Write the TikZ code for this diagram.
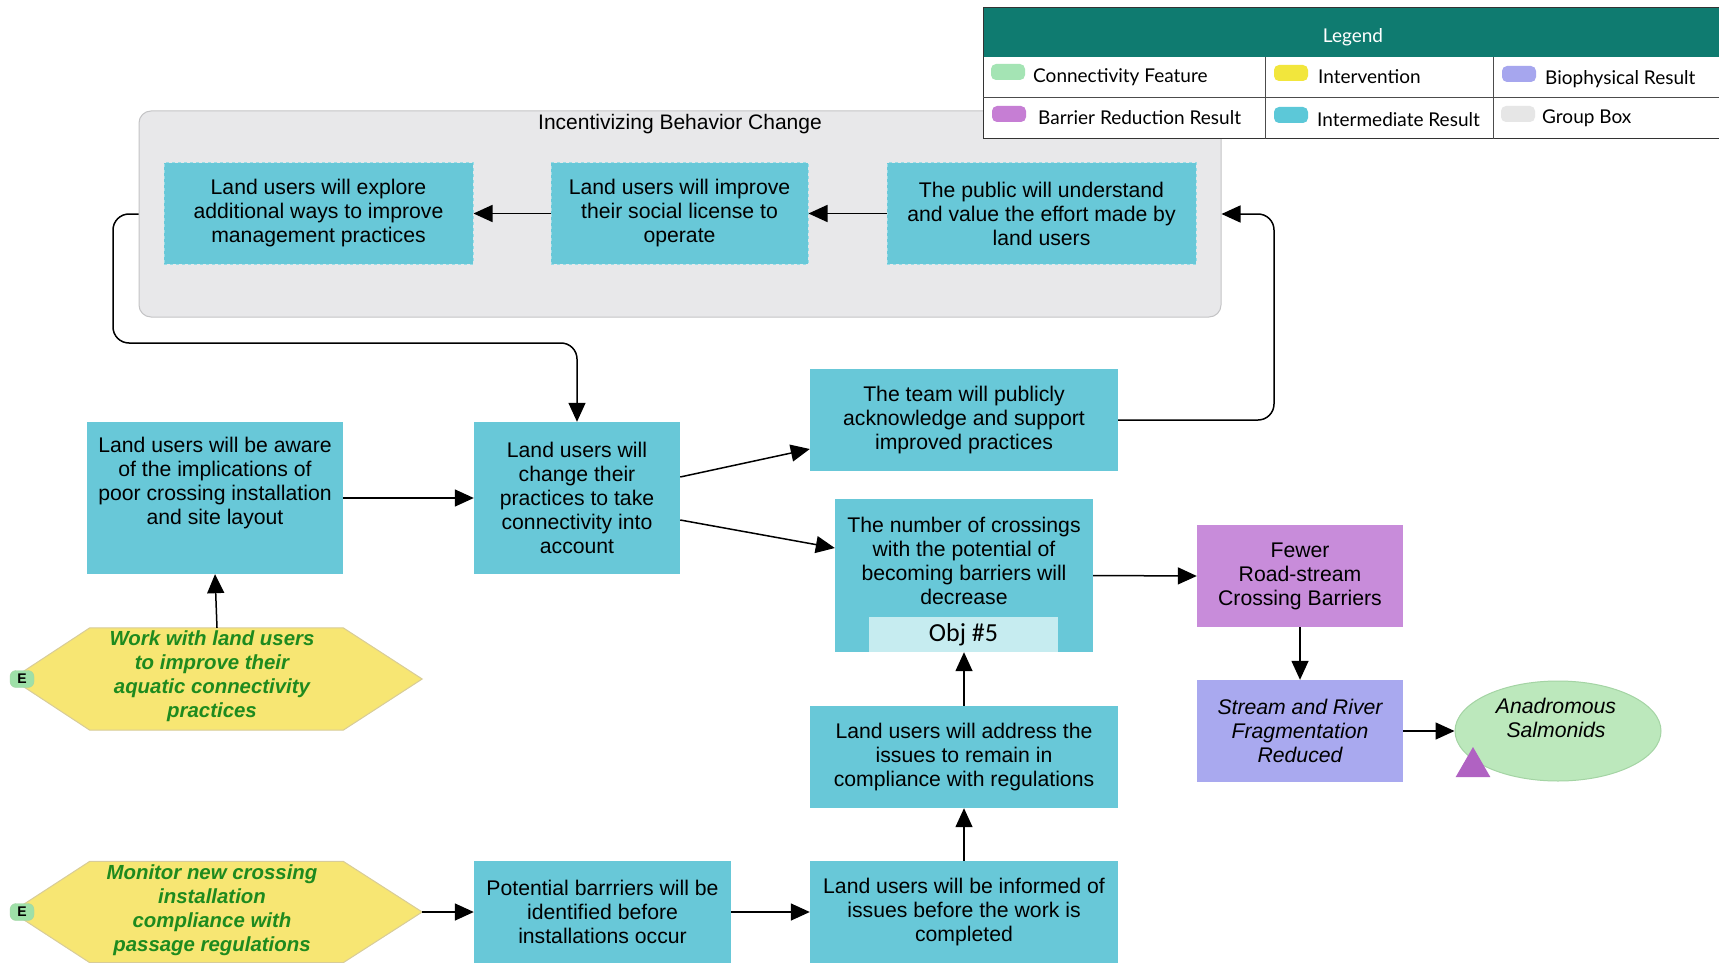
\documentclass[tikz,border=0pt]{standalone}
\usepackage{fontspec}
\setmainfont{Liberation Sans}
\newfontfamily\legfont{Lato}
\newfontfamily\objfont{Carlito}
\usetikzlibrary{arrows.meta,calc,shapes.geometric}
\definecolor{ircol}{HTML}{68C8D8}
\definecolor{irdash}{HTML}{9ADCE6}
\definecolor{grpfill}{HTML}{E8E8EA}
\definecolor{grpdraw}{HTML}{C4C4C6}
\definecolor{hexfill}{HTML}{F7E673}
\definecolor{hexdraw}{HTML}{D8CC98}
\definecolor{hextext}{HTML}{1E8A1E}
\definecolor{barcol}{HTML}{C88CDA}
\definecolor{biocol}{HTML}{A9A9EF}
\definecolor{salcol}{HTML}{BCE8BC}
\definecolor{saldraw}{HTML}{A4D4A4}
\definecolor{tricol}{HTML}{B062C2}
\definecolor{legteal}{HTML}{0F7B70}
\definecolor{objfill}{HTML}{C6ECF0}
\definecolor{ecol}{HTML}{9EE0A8}
\definecolor{swconn}{HTML}{A4E4B4}
\definecolor{swint}{HTML}{F2E63C}
\definecolor{swbio}{HTML}{A6A6EE}
\definecolor{swbar}{HTML}{C67ED4}
\definecolor{swir}{HTML}{5CC8D8}
\definecolor{swgrp}{HTML}{E6E6E6}
\tikzset{
  boxtext/.style={font=\fontsize{21.2}{24}\selectfont, align=center, inner sep=0pt},
  irbox/.style={boxtext, fill=ircol, minimum height=102pt},
  irdashed/.style={irbox, draw=irdash, dashed, line width=1pt},
  arr/.style={-{Triangle[length=19pt,width=17pt]}, line width=1.5pt},
  hextxt/.style={font=\fontsize{20.4}{24}\selectfont\bfseries\itshape, text=hextext, align=center, inner sep=0pt},
  legtxt/.style={font=\legfont\fontsize{19}{22}\selectfont, anchor=west, inner sep=0pt},
  swatch/.style={rounded corners=5pt, minimum width=34pt, minimum height=16pt, inner sep=0pt},
  ebadge/.style={fill=ecol, draw=saldraw, rounded corners=6pt, minimum width=24pt, minimum height=17pt, inner sep=0pt, font=\fontsize{14}{14}\selectfont\bfseries}
}
\begin{document}
\begin{tikzpicture}[x=1pt,y=-1pt]
\useasboundingbox[fill=white] (0,0) rectangle (1719,963);

% group box
\node[fill=grpfill, draw=grpdraw, line width=1pt, rounded corners=12pt, minimum width=1082pt, minimum height=206pt, inner sep=0pt] (grp) at (680,214) {};
\node[font=\fontsize{21}{24}\selectfont, inner sep=0pt] (grpt) at (680,124) {Incentivizing Behavior Change};

% group contents
\node[irdashed, minimum width=309pt, minimum height=101pt] (A) at (318.5,213.5) {Land users will explore\\additional ways to improve\\management practices};
\node[irdashed, minimum width=257pt, minimum height=101pt] (B) at (679.5,213.5) {Land users will improve\\their social license to\\operate};
\node[irdashed, minimum width=309pt, minimum height=101pt] (C) at (1041.5,213.5) {The public will understand\\and value the effort made by\\land users};

% other boxes
\node[irbox, minimum width=308pt] (D) at (964,420) {The team will publicly\\acknowledge and support\\improved practices};
\node[irbox, minimum width=256pt, minimum height=152pt] (E) at (215,498) {};
\node[boxtext] (Et) at (215,483) {Land users will be aware\\of the implications of\\poor crossing installation\\and site layout};
\node[irbox, minimum width=206pt, minimum height=152pt] (F) at (577,498) {Land users will\\change their\\practices to take\\connectivity into\\account};
\node[irbox, minimum width=258pt, minimum height=153pt] (G) at (964,575.5) {};
\node[boxtext] (Gt) at (964,561) {The number of crossings\\with the potential of\\becoming barriers will\\decrease};
\node[fill=objfill, minimum width=189pt, minimum height=35pt, inner sep=0pt, font=\objfont\fontsize{26}{28}\selectfont] (obj) at (963.5,634.5) {Obj \#5};
\node[boxtext, fill=barcol, minimum width=206pt, minimum height=102pt] (H) at (1300,576) {Fewer\\Road-stream\\Crossing Barriers};
\node[boxtext, fill=biocol, minimum width=206pt, minimum height=102pt, font=\fontsize{21.2}{24}\selectfont\itshape] (I) at (1300,731) {Stream and River\\Fragmentation\\Reduced};
\node[ellipse, fill=salcol, draw=saldraw, line width=1pt, minimum width=206pt, minimum height=100pt, inner sep=0pt] (sal) at (1558,731) {};
\node[boxtext, font=\fontsize{21.2}{24}\selectfont\itshape] (salt) at (1556,718) {Anadromous\\Salmonids};
\node[isosceles triangle, isosceles triangle apex angle=60, shape border rotate=90, fill=tricol, minimum height=30pt, minimum width=31pt, inner sep=0pt] (tri) at (1473,767) {};
\node[irbox, minimum width=308pt] (J) at (964,757) {Land users will address the\\issues to remain in\\compliance with regulations};
\node[irbox, minimum width=257pt] (K) at (602.5,912) {Potential barrriers will be\\identified before\\installations occur};
\node[irbox, minimum width=308pt] (L) at (964,912) {Land users will be informed of\\issues before the work is\\completed};

% hexagons
\node[minimum width=410pt, minimum height=102pt, inner sep=0pt] (hex1) at (217,679) {};
\fill[hexfill, draw=hexdraw, line width=1pt] (hex1.west) -- ($(hex1.north west)+(78,0)$) -- ($(hex1.north east)+(-79,0)$) -- (hex1.east) -- ($(hex1.south east)+(-79,0)$) -- ($(hex1.south west)+(78,0)$) -- cycle;
\node[hextxt] (hex1t) at (212,676) {Work with land users\\to improve their\\aquatic connectivity\\practices};
\node[ebadge] (e1) at (22,679) {E};

\node[minimum width=410pt, minimum height=101pt, inner sep=0pt] (hex2) at (217,912) {};
\fill[hexfill, draw=hexdraw, line width=1pt] (hex2.west) -- ($(hex2.north west)+(78,0)$) -- ($(hex2.north east)+(-79,0)$) -- (hex2.east) -- ($(hex2.south east)+(-79,0)$) -- ($(hex2.south west)+(78,0)$) -- cycle;
\node[hextxt] (hex2t) at (212,910) {Monitor new crossing\\installation\\compliance with\\passage regulations};
\node[ebadge] (e2) at (22,912) {E};

% connectors
\draw[arr] (B.west) -- (A.east);
\draw[arr] (C.west) -- (B.east);
\draw[arr, rounded corners=16pt] (grp.west) -- (113,214) -- (113,343) -- (577,343) -- (F.north);
\draw[arr, rounded corners=16pt] (D.east) -- (1274,420) -- (1274,214) -- (grp.east);
\draw[arr] (E.east) -- (F.west);
\draw[arr] ($(F.east)+(0,-21)$) -- ($(D.west)+(0,29)$);
\draw[arr] ($(F.east)+(0,22)$) -- ($(G.west)+(0,-27.5)$);
\draw[arr] (G.east) -- (H.west);
\draw[arr] (H.south) -- (I.north);
\draw[arr] (I.east) -- (sal.west);
\draw[arr] (hex1.north) -- (E.south);
\draw[arr] (J.north) -- (G.south);
\draw[arr] (L.north) -- (J.south);
\draw[arr] (K.east) -- (L.west);
\draw[arr] (hex2.east) -- (K.west);

% legend
\fill[white] (983,8) rectangle (1719,139);
\fill[legteal] (983,8) rectangle (1719,57);
\node[font=\legfont\fontsize{19}{22}\selectfont, text=white, inner sep=0pt] (legt) at (1353,37) {Legend};
\draw[line width=1pt, black!80] (983,8) rectangle (1719,139);
\draw[line width=1pt, black!70] (983,98) -- (1719,98);
\draw[line width=1pt, black!70] (1265,57) -- (1265,139);
\draw[line width=1pt, black!70] (1493,57) -- (1493,139);
\node[swatch, fill=swconn] (s1) at (1008,72) {};
\node[legtxt] (l1) at (1033,77) {Connectivity Feature};
\node[swatch, fill=swint] (s2) at (1291,73) {};
\node[legtxt] (l2) at (1318,77) {Intervention};
\node[swatch, fill=swbio] (s3) at (1519,74) {};
\node[legtxt] (l3) at (1545,79) {Biophysical Result};
\node[swatch, fill=swbar] (s4) at (1009,114) {};
\node[legtxt] (l4) at (1038,118) {Barrier Reduction Result};
\node[swatch, fill=swir] (s5) at (1291,115) {};
\node[legtxt] (l5) at (1317,120) {Intermediate Result};
\node[swatch, fill=swgrp] (s6) at (1518,114) {};
\node[legtxt] (l6) at (1542,118) {Group Box};
\end{tikzpicture}
\end{document}
